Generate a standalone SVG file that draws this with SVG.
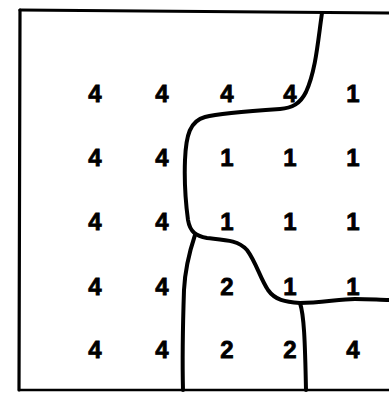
<svg xmlns="http://www.w3.org/2000/svg" width="389" height="393" viewBox="0 0 389 393">
<style>
.b{fill:none;stroke:#000;stroke-linecap:round;stroke-linejoin:round}
.t{font-family:"Liberation Sans",Arial,sans-serif;font-weight:bold;font-size:24px;text-anchor:middle;fill:#000;stroke:#000;stroke-width:0.8}
</style>
<rect width="389" height="393" fill="#fff"/>
<g id="frame">
<path class="b" stroke-width="3.2" d="M20,10 L389,13"/>
<path class="b" stroke-width="3.2" d="M20,10 L19,390"/>
<path class="b" stroke-width="2.4" d="M19,390 L389,390"/>
</g>
<g id="boundaries">
<path class="b" stroke-width="4" d="M322,13 C318,40 316,70 306,92 C300,104 292,108 280,109 C250,111 220,113 205,117 C190,121 186,135 185,160 C184,185 186,205 188,220 C190,232 196,236 207,238 C225,240 238,240 247,250 C256,262 260,278 268,290 C275,300 285,302 300,303 C320,303 340,299 355,299 C370,299 380,300 389,300"/>
<path class="b" stroke-width="4" d="M195,235 C190,250 185,270 184,290 C183,320 182,350 183,390"/>
<path class="b" stroke-width="4" d="M300,303 C304,315 305,340 306,390"/>
</g>
<g id="labels">
<text class="t" x="95" y="102">4</text><text class="t" x="162" y="102">4</text><text class="t" x="227" y="102">4</text><text class="t" x="290" y="102">4</text><text class="t" x="353" y="102">1</text>
<text class="t" x="95" y="166">4</text><text class="t" x="162" y="166">4</text><text class="t" x="227" y="166">1</text><text class="t" x="290" y="166">1</text><text class="t" x="353" y="166">1</text>
<text class="t" x="95" y="230">4</text><text class="t" x="162" y="230">4</text><text class="t" x="227" y="230">1</text><text class="t" x="290" y="230">1</text><text class="t" x="353" y="230">1</text>
<text class="t" x="95" y="295">4</text><text class="t" x="162" y="295">4</text><text class="t" x="227" y="295">2</text><text class="t" x="290" y="295">1</text><text class="t" x="353" y="295">1</text>
<text class="t" x="95" y="358">4</text><text class="t" x="162" y="358">4</text><text class="t" x="227" y="358">2</text><text class="t" x="290" y="358">2</text><text class="t" x="353" y="358">4</text>
</g>
</svg>
